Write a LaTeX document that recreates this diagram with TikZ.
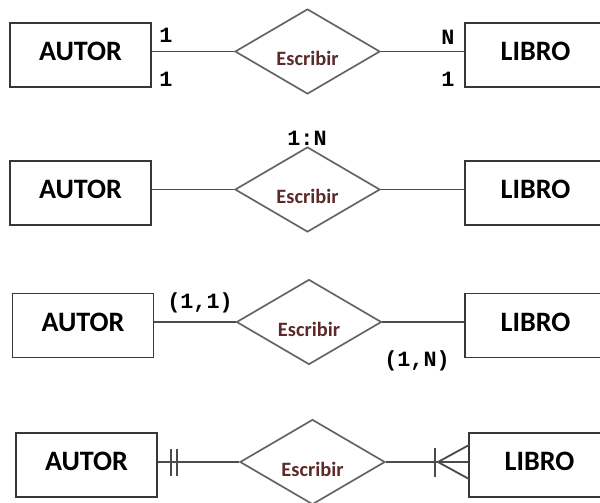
\documentclass[tikz,border=0pt]{standalone}
\usepackage{fontspec}
\setmainfont{Carlito}
\newfontfamily\cardfont{Liberation Mono}
\usetikzlibrary{shapes.geometric}
\definecolor{boxgray}{RGB}{55,55,55}
\definecolor{linegray}{RGB}{75,75,75}
\definecolor{diagray}{RGB}{100,100,100}
\definecolor{relred}{RGB}{92,42,42}

\tikzset{
  entity/.style={draw=boxgray, line width=1.3pt, rectangle, inner sep=0pt,
    minimum width=3.525cm, minimum height=1.6cm,
    text height=0.45cm, text depth=0.175cm,
    font=\bfseries\fontsize{20}{20}\selectfont},
  relation/.style={draw=diagray, line width=1.2pt, diamond, aspect=1.7, inner sep=0pt,
    minimum width=3.625cm, minimum height=2.125cm,
    text height=0.72cm, text depth=0pt, text=relred,
    font=\bfseries\fontsize{14.5}{14.5}\selectfont},
  conn/.style={draw=linegray, line width=1.3pt},
  card/.style={font=\cardfont\bfseries\fontsize{15.5}{15.5}\selectfont, inner sep=0pt}
}

\begin{document}
\begin{tikzpicture}[x=0.025cm, y=-0.025cm]
  \path[use as bounding box, clip] (0,0) rectangle (600,502);

  % ---- 1 / 1 and N / 1 ----
  \node[entity]   (autor1) at (80.5, 55)   {AUTOR};
  \node[relation] (rel1)   at (307.5, 51.5) {Escribir};
  \node[entity]   (libro1) at (535.5, 55)  {LIBRO};
  \draw[conn] (autor1.east |- rel1.west) -- (rel1.west);
  \draw[conn] (rel1.east) -- (rel1.east -| libro1.west);
  \node[card] (c1a) at (166, 35) {1};
  \node[card] (c1b) at (166, 79) {1};
  \node[card] (c1c) at (448, 37) {N};
  \node[card] (c1d) at (448, 79) {1};

  % ---- 1:N on the relation ----
  \node[entity]   (autor2) at (80.5, 193)  {AUTOR};
  \node[relation] (rel2)   at (307.5, 189.5) {Escribir};
  \node[entity]   (libro2) at (535.5, 193) {LIBRO};
  \draw[conn] (autor2.east |- rel2.west) -- (rel2.west);
  \draw[conn] (rel2.east) -- (rel2.east -| libro2.west);
  \node[card] (c2) at (307, 138) {1:N};

  % ---- (min,max) pairs ----
  \node[entity]   (autor3) at (83, 325.5)  {AUTOR};
  \node[relation] (rel3)   at (309, 322)   {Escribir};
  \node[entity]   (libro3) at (535.5, 325.5) {LIBRO};
  \draw[conn] (autor3.east |- rel3.west) -- (rel3.west);
  \draw[conn] (rel3.east) -- (rel3.east -| libro3.west);
  \node[card] (c3a) at (200, 303) {(1,1)};
  \node[card] (c3b) at (417, 361) {(1,N)};

  % ---- crow's foot ----
  \node[entity]   (autor4) at (86.5, 465)  {AUTOR};
  \node[relation] (rel4)   at (312.5, 462) {Escribir};
  \node[entity]   (libro4) at (539.5, 465) {LIBRO};
  \draw[conn] (autor4.east |- rel4.west) -- (rel4.west);
  \draw[conn] (rel4.east) -- (rel4.east -| libro4.west);
  % one and only one
  \draw[conn] (171, 449) -- (171, 476);
  \draw[conn] (177, 449) -- (177, 476);
  % one or many
  \draw[conn] (435, 448) -- (435, 477);
  \draw[conn] (469, 445) -- (438, 462) -- (469, 479);
\end{tikzpicture}
\end{document}
